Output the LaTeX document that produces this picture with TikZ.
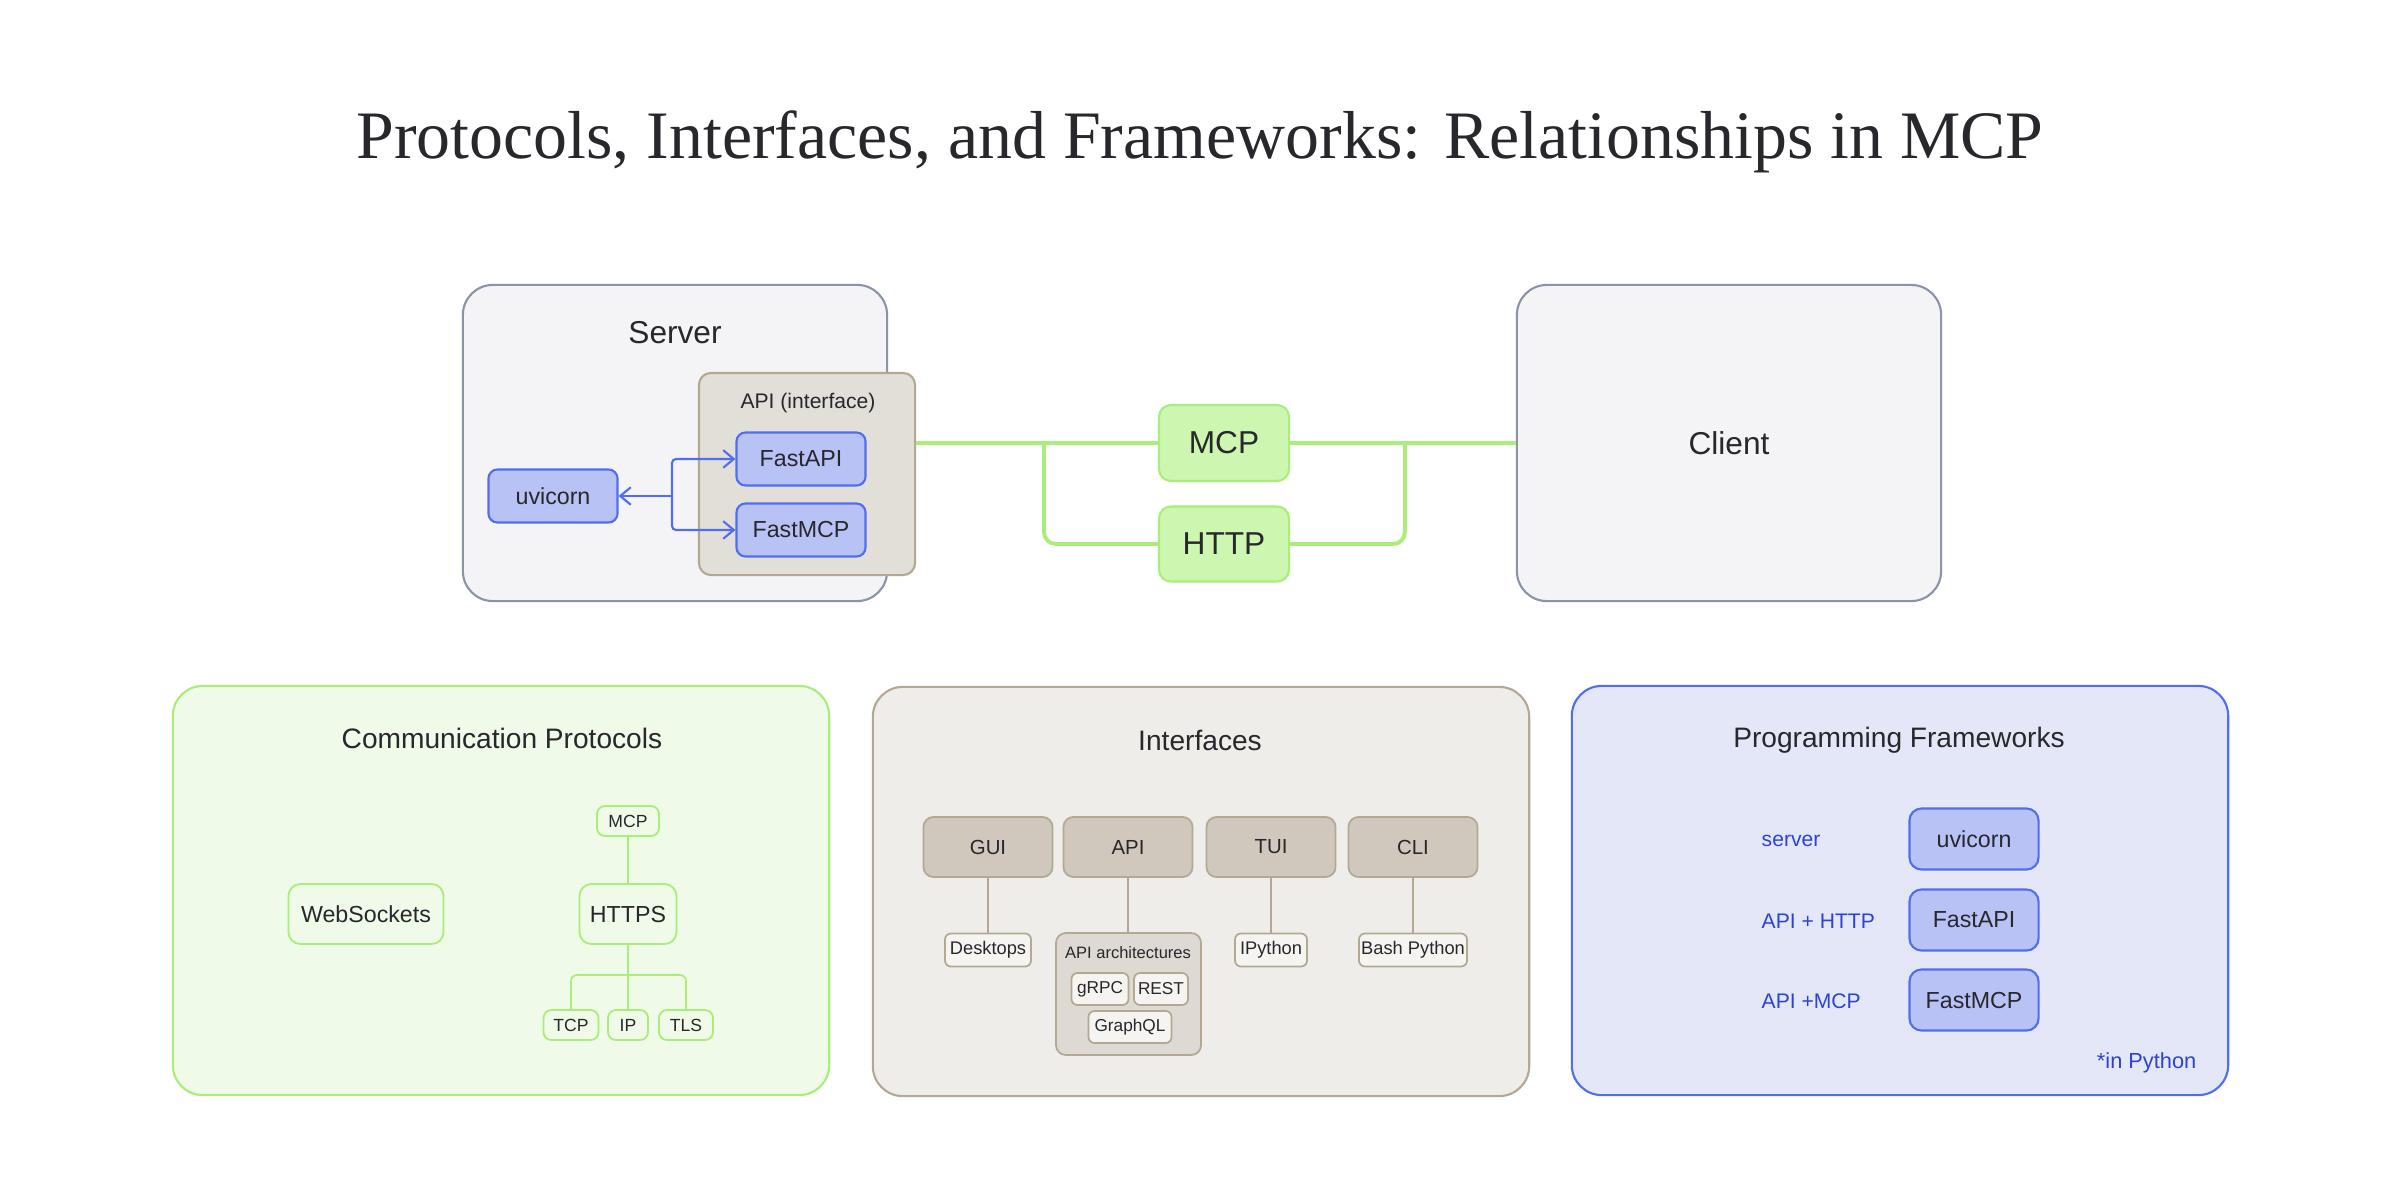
\documentclass[tikz,border=0pt]{standalone}
\usepackage{fontspec}
\setmainfont{Liberation Sans}
\newfontfamily\titlefont{Liberation Serif}
\usetikzlibrary{arrows.meta}
\definecolor{txt}{HTML}{27272C}
\definecolor{srvfill}{HTML}{F4F4F6}
\definecolor{srvdraw}{HTML}{8A94A8}
\definecolor{beigefill}{HTML}{E2DFD9}
\definecolor{beigedraw}{HTML}{B3A993}
\definecolor{bluefill}{HTML}{B8C2F5}
\definecolor{bluedraw}{HTML}{4F6EF2}
\definecolor{greenline}{HTML}{A8EE78}
\definecolor{greenfill}{HTML}{CDF7B0}
\definecolor{greenbg}{HTML}{EFFAE8}
\definecolor{ifbg}{HTML}{EFEDE9}
\definecolor{iftop}{HTML}{D0C8BC}
\definecolor{ifleaf}{HTML}{F6F4F1}
\definecolor{ifarch}{HTML}{DEDAD3}
\definecolor{pfbg}{HTML}{E4E7F8}
\definecolor{pftext}{HTML}{2B43D6}
\newcommand\myfs[1]{\fontsize{#1}{#1}\selectfont}
\tikzset{
  base/.style={draw, align=center, inner sep=0pt, text=txt},
  bigbox/.style={base, rounded corners=0.3cm, line width=0.6pt},
  srvbox/.style={bigbox, fill=srvfill, draw=srvdraw},
  apibox/.style={base, rounded corners=0.12cm, line width=0.6pt, fill=beigefill, draw=beigedraw},
  bluebox/.style={base, rounded corners=0.09cm, line width=0.6pt, fill=bluefill, draw=bluedraw, minimum width=1.29cm, font=\myfs{6.6}},
  greenbox/.style={base, rounded corners=0.12cm, line width=0.6pt, fill=greenfill, draw=greenline, minimum width=1.30cm, minimum height=0.76cm, font=\myfs{9}},
  gline/.style={draw=greenline, line width=1.1pt},
  bline/.style={draw=bluedraw, line width=0.6pt, -{Straight Barb[length=3pt,width=5pt]}},
  pnode/.style={base, rounded corners=0.08cm, line width=0.5pt, fill=greenbg, draw=greenline},
  plink/.style={draw=greenline, line width=0.5pt},
  itop/.style={base, rounded corners=0.1cm, line width=0.5pt, fill=iftop, draw=beigedraw, minimum width=1.29cm, minimum height=0.60cm, font=\myfs{5.8}},
  ileaf/.style={base, rounded corners=0.06cm, line width=0.5pt, fill=ifleaf, draw=beigedraw, minimum height=0.33cm, font=\myfs{5.2}},
  ilink/.style={draw=beigedraw, line width=0.5pt},
  secttitle/.style={text=txt, font=\myfs{8}},
  pflabel/.style={text=pftext, font=\myfs{6}, anchor=west, inner sep=0pt},
}
\begin{document}
\begin{tikzpicture}[x=0.01cm,y=-0.01cm]
\useasboundingbox[fill=white] (0,0) rectangle (2400,1200);

% title
\node[text=txt, font=\titlefont\myfs{19.3}] (title) at (1200,142) {Protocols, Interfaces, and Frameworks: Relationships in MCP};

% server
\node[srvbox, minimum width=4.24cm, minimum height=3.16cm] (server) at (675,443) {};
\node[text=txt, font=\myfs{9}] (servert) at (675,333) {Server};
\node[apibox, minimum width=2.16cm, minimum height=2.02cm] (api) at (807,474) {};
\node[text=txt, font=\myfs{6}] (apit) at (808,403) {API (interface)};
\node[bluebox, minimum height=0.53cm] (fastapi) at (801,459) {FastAPI};
\node[bluebox, minimum height=0.53cm] (fastmcp) at (801,530) {FastMCP};
\node[bluebox, minimum height=0.53cm] (uvicorn) at (553,496) {uvicorn};
\coordinate (bj) at (672,496);
\draw[bline] (bj) -- (uvicorn.east);
\draw[bline, rounded corners=0.04cm] (bj) |- (fastapi.west);
\draw[bline, rounded corners=0.04cm] (bj) |- (fastmcp.west);

% client
\node[srvbox, minimum width=4.24cm, minimum height=3.16cm, font=\myfs{9}] (client) at (1729,443) {Client};

% protocols
\node[greenbox] (mcp) at (1224,443) {MCP};
\node[greenbox, minimum height=0.75cm] (http) at (1224,544) {HTTP};
\coordinate (apir) at (api.east |- client.west);
\coordinate (j1) at (1044,443);
\coordinate (j2) at (1405,443);
\draw[gline] (apir) -- (mcp.west);
\draw[gline] (mcp.east) -- (client.west);
\draw[gline, rounded corners=0.12cm] (j1) |- (http.west);
\draw[gline, rounded corners=0.12cm] (http.east) -| (j2);

% Communication Protocols
\node[bigbox, fill=greenbg, draw=greenline, minimum width=6.56cm, minimum height=4.09cm] (cpbox) at (501,890.5) {};
\node[secttitle] (cpt) at (502,738) {Communication Protocols};
\node[pnode, minimum width=0.62cm, minimum height=0.30cm, font=\myfs{5}] (pmcp) at (628,821) {MCP};
\node[pnode, rounded corners=0.12cm, minimum width=0.97cm, minimum height=0.60cm, font=\myfs{6.6}] (https) at (628,914) {HTTPS};
\node[pnode, rounded corners=0.12cm, minimum width=1.55cm, minimum height=0.60cm, font=\myfs{6.6}] (ws) at (366,914) {WebSockets};
\node[pnode, minimum width=0.55cm, minimum height=0.30cm, font=\myfs{5}] (tcp) at (571,1025) {TCP};
\node[pnode, minimum width=0.40cm, minimum height=0.30cm, font=\myfs{5}] (ip) at (628,1025) {IP};
\node[pnode, minimum width=0.54cm, minimum height=0.30cm, font=\myfs{5}] (tls) at (686,1025) {TLS};
\draw[plink] (pmcp) -- (https);
\draw[plink] (https.south) -- (ip.north);
\coordinate (tj) at (628,975);
\draw[plink, rounded corners=0.06cm] (tcp.north) |- (tj) -| (tls.north);

% Interfaces
\node[bigbox, fill=ifbg, draw=beigedraw, minimum width=6.56cm, minimum height=4.09cm] (ifbox) at (1201,891.5) {};
\node[secttitle] (ift) at (1200,740) {Interfaces};
\node[itop] (gui) at (988,847) {GUI};
\node[itop] (iapi) at (1128,847) {API};
\node[itop] (tui) at (1271,847) {TUI};
\node[itop] (cli) at (1413,847) {CLI};
\node[ileaf, minimum width=0.86cm] (desk) at (988,950) {Desktops};
\node[base, rounded corners=0.1cm, line width=0.5pt, fill=ifarch, draw=beigedraw, minimum width=1.45cm, minimum height=1.22cm] (arch) at (1128.5,994) {};
\node[text=txt, font=\myfs{4.7}] (archt) at (1128,953) {API architectures};
\node[ileaf, minimum width=0.57cm, minimum height=0.32cm, font=\myfs{4.9}] (grpc) at (1100,989) {gRPC};
\node[ileaf, minimum width=0.54cm, minimum height=0.32cm, font=\myfs{4.9}] (rest) at (1161,989) {REST};
\node[ileaf, minimum width=0.83cm, minimum height=0.32cm, font=\myfs{4.9}] (gql) at (1130,1027) {GraphQL};
\node[ileaf, minimum width=0.72cm] (ipy) at (1271,950) {IPython};
\node[ileaf, minimum width=1.08cm] (bash) at (1413,950) {Bash Python};
\draw[ilink] (gui.south) -- (gui.south |- desk.north);
\draw[ilink] (iapi.south) -- (iapi.south |- arch.north);
\draw[ilink] (tui.south) -- (tui.south |- ipy.north);
\draw[ilink] (cli.south) -- (cli.south |- bash.north);

% Programming Frameworks
\node[bigbox, fill=pfbg, draw=bluedraw, minimum width=6.56cm, minimum height=4.09cm] (pfbox) at (1900,890.5) {};
\node[secttitle] (pft) at (1899,740) {Programming Frameworks};
\node[bluebox, rounded corners=0.12cm, minimum height=0.61cm] (uv2) at (1974,839) {uvicorn};
\node[bluebox, rounded corners=0.12cm, minimum height=0.61cm] (fa2) at (1974,920) {FastAPI};
\node[bluebox, rounded corners=0.12cm, minimum height=0.61cm] (fm2) at (1974,1000) {FastMCP};
\node[pflabel] (l1) at (1761,841) {server};
\node[pflabel] (l2) at (1761,921) {API + HTTP};
\node[pflabel] (l3) at (1761,1001) {API +MCP};
\node[pflabel, anchor=east, font=\myfs{6.2}] (note) at (2197,1063) {*in Python};
\end{tikzpicture}
\end{document}
